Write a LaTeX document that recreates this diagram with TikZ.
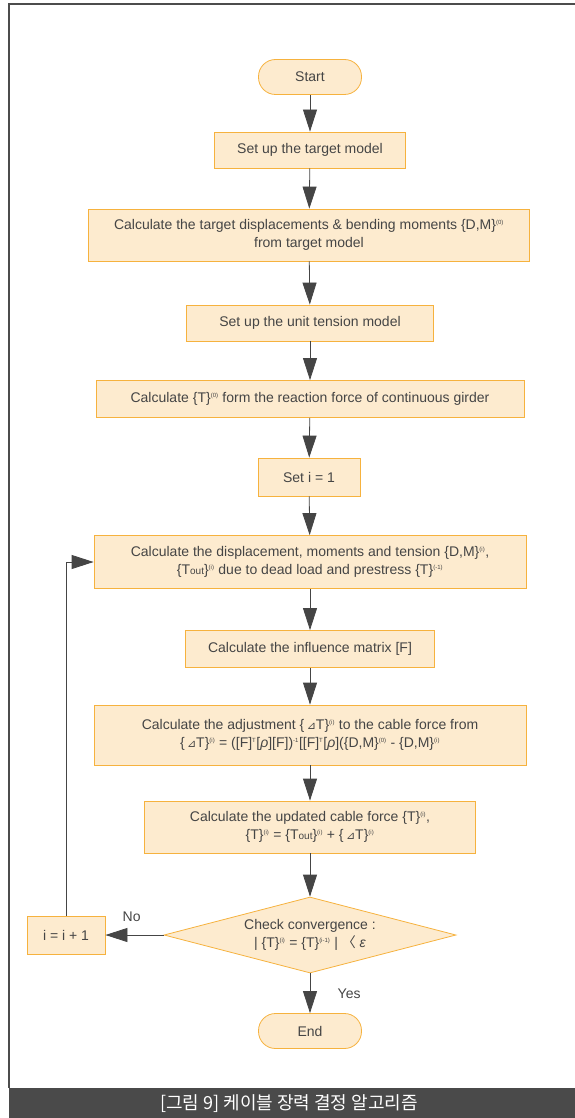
\documentclass[tikz,border=0pt]{standalone}
\usepackage{fontspec}
\setmainfont{Liberation Sans}
\newfontfamily\cjk{Noto Sans CJK KR}
\newfontfamily\symf{DejaVu Sans}
\usetikzlibrary{arrows.meta,shapes.geometric}
\definecolor{boxfill}{HTML}{FDEBCF}
\definecolor{boxline}{HTML}{F6B23E}
\definecolor{inkgray}{HTML}{454545}
\definecolor{bargray}{HTML}{4A4A4A}
\newcommand{\sps}[1]{\textsuperscript{\fontsize{6}{6}\selectfont(#1)}}
\newcommand{\trp}{\textsuperscript{\fontsize{6}{6}\selectfont T}}
\newcommand{\dT}{{\symf\fontsize{11}{11}\selectfont ⊿}T}
\newcommand{\Tout}{T{\fontsize{10}{10}\selectfont out}}
\begin{document}
\begin{tikzpicture}[x=1pt, y=-1pt, font=\fontsize{14}{18}\selectfont, text=inkgray,
 proc/.style={draw=boxline, fill=boxfill, line width=0.8pt, align=center, inner sep=0pt},
 term/.style={proc, rounded corners=17pt, minimum width=103pt, minimum height=35pt},
 flow/.style={draw=inkgray, line width=0.8pt, -{Triangle[length=22pt,width=14pt]}}]
 \useasboundingbox (0,0) rectangle (575,1118);
 % frame and caption
 \draw[gray!60!black, line width=1.5pt] (575,4)--(9,4)--(9,1088);
 \fill[bargray] (9,1088) rectangle (575,1118);
 \node[text=white, font=\cjk\fontsize{18}{20}\selectfont] (cap) at (289,1104) {[그림 9] 케이블 장력 결정 알고리즘};
 % steps
 \node[term] (start) at (310,77) {Start};
 \node[proc, minimum width=191pt, minimum height=36pt] (model) at (310,150) {Set up the target model};
 \node[proc, minimum width=441pt, minimum height=52pt] (target) at (309,235)
  {Calculate the target displacements \& bending moments \{D,M\}\sps{0}\\from target model};
 \node[proc, minimum width=247pt, minimum height=36pt] (unit) at (310,323) {Set up the unit tension model};
 \node[proc, minimum width=428pt, minimum height=37pt] (react) at (310,399)
  {Calculate \{T\}\sps{0} form the reaction force of continuous girder};
 \node[proc, minimum width=102pt, minimum height=38pt] (init) at (309,477) {Set i = 1};
 \node[proc, minimum width=432pt, minimum height=53pt] (disp) at (310,562)
  {Calculate the displacement, moments and tension \{D,M\}\sps{i},\\\{\Tout\}\sps{i} due to dead load and prestress \{T\}\sps{-1}};
 \node[proc, minimum width=249pt, minimum height=37pt] (infl) at (310,649) {Calculate the influence matrix [F]};
 \node[proc, minimum width=432pt, minimum height=60pt] (adj) at (310,735)
  {Calculate the adjustment \{\,\dT\}\sps{i} to the cable force from\\
   \{\,\dT\}\sps{i} = ([F]\trp[{\itshape ρ}][F])\textsuperscript{\fontsize{6}{6}\selectfont -1}[[F]\trp[{\itshape ρ}](\{D,M\}\sps{0} - \{D,M\}\sps{i}};
 \node[proc, minimum width=331pt, minimum height=52pt] (upd) at (310,827)
  {Calculate the updated cable force \{T\}\sps{i},\\\{T\}\sps{i} = \{\Tout\}\sps{i} + \{\,\dT\}\sps{i}};
 \node[proc, shape=diamond, shape aspect=3.8, minimum width=292pt, minimum height=76pt] (chk) at (310,935)
  {Check convergence :\\| \{T\}\sps{i} = \{T\}\sps{i-1} | {\cjk 〈} {\itshape ε}};
 \node[proc, minimum width=78pt, minimum height=38pt] (inc) at (66,935) {i = i + 1};
 \node[term] (end) at (310,1031) {End};
 % connectors
 \draw[flow] (start)--(model);
 \draw[flow] (model)--(target);
 \draw[flow] (target)--(unit);
 \draw[flow] (unit)--(react);
 \draw[flow] (react)--(init);
 \draw[flow] (init)--(disp);
 \draw[flow] (disp)--(infl);
 \draw[flow] (infl)--(adj);
 \draw[flow] (adj)--(upd);
 \draw[flow] (upd)--(chk);
 \draw[flow] (chk.west)--(inc.east) node[pos=0.55, above=10pt] (no) {No};
 \draw[flow] (inc.north)|-(disp.west);
 \draw[flow] (chk.south)--(end.north) node[midway, right=24pt] (yes) {Yes};
\end{tikzpicture}
\end{document}
